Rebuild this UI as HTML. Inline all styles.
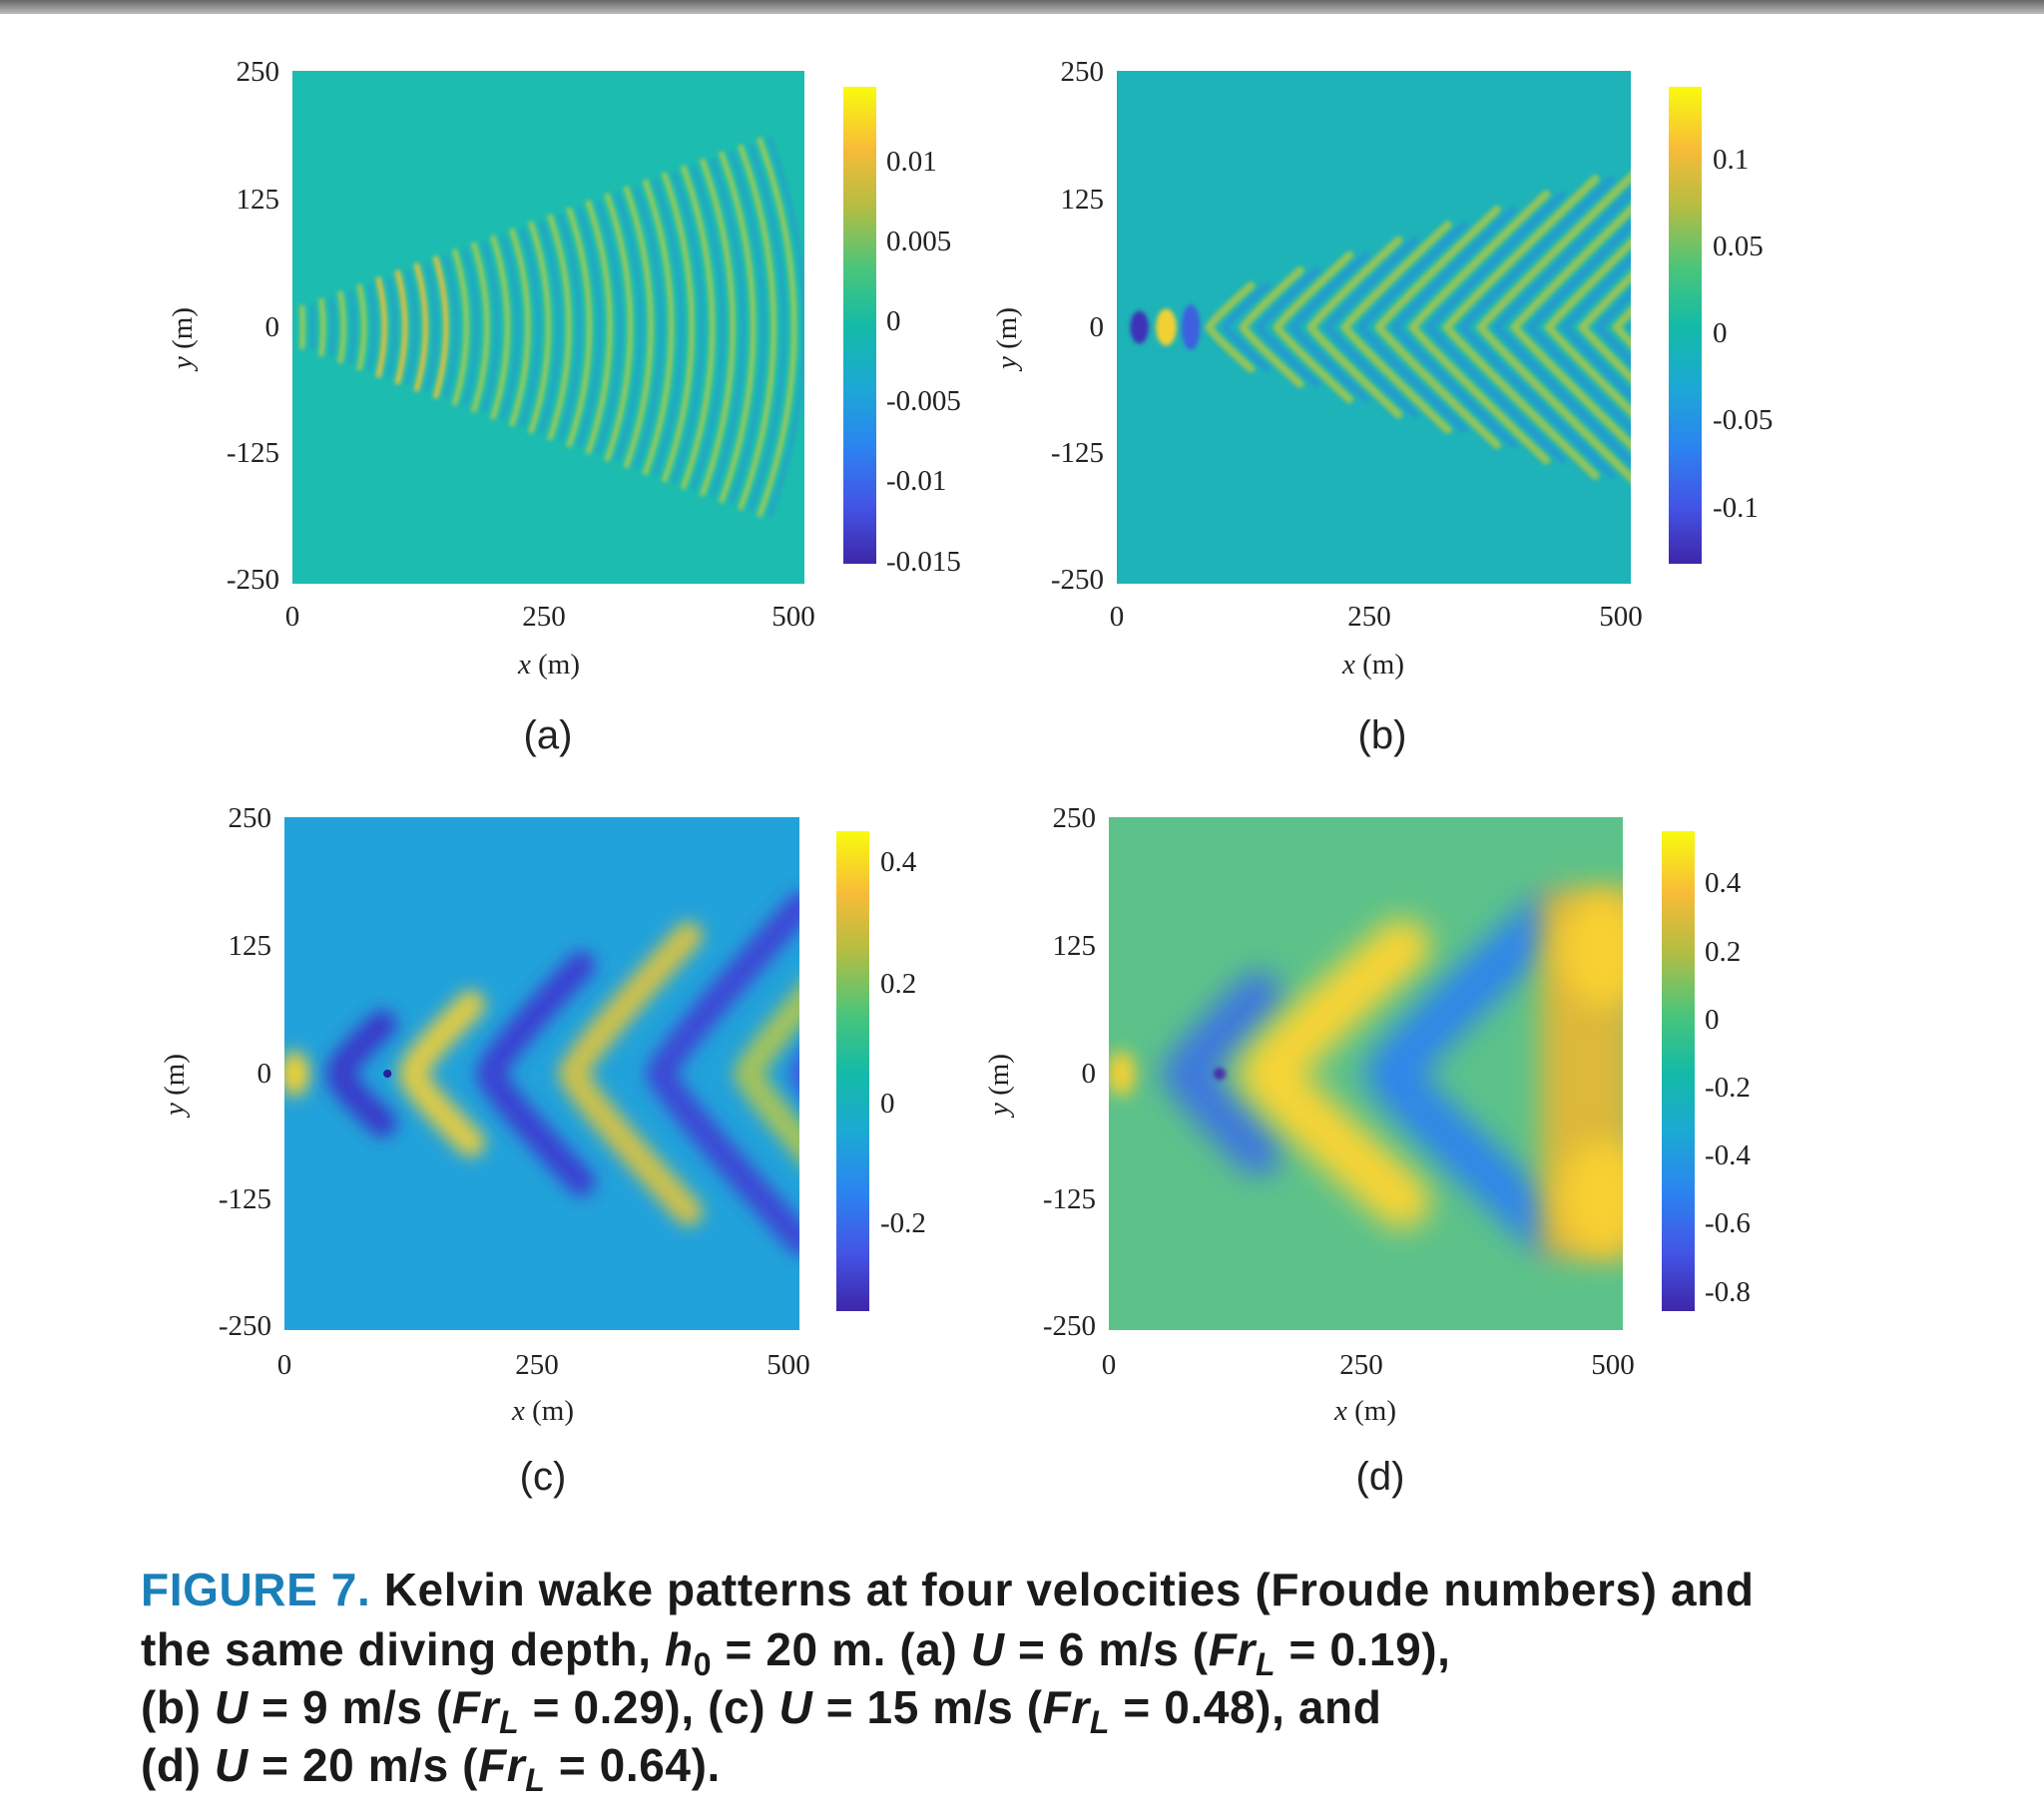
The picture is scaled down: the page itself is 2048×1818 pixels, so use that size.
<!DOCTYPE html><html><head><meta charset="utf-8"><style>
body{margin:0;width:2048px;height:1818px;background:#fff;position:relative;overflow:hidden;font-family:"Liberation Serif",serif;}
.t{position:absolute;font-size:29px;color:#222;white-space:nowrap;}
.r{text-align:right;width:90px;}
.c{transform:translateX(-50%);}
.lab{position:absolute;font-family:"Liberation Sans",sans-serif;font-size:40px;color:#222;transform:translateX(-50%);}
.cap{position:absolute;left:141px;font-family:"Liberation Sans",sans-serif;font-weight:bold;font-size:46px;letter-spacing:0.6px;color:#1a1a1a;white-space:nowrap;}
.cb{position:absolute;width:33px;background:linear-gradient(to top,#3e26a8 0%,#4354e6 12%,#2b85f0 25%,#1ca8d5 37%,#14bba6 50%,#4bc57a 62%,#b5bd43 75%,#f7bb38 87%,#f9fb0e 100%);}
svg{position:absolute;}
</style></head><body>
<div style="position:absolute;left:0;top:0;width:2048px;height:14px;background:linear-gradient(#666,#bbb);"></div>

<svg id="pa" style="left:293px;top:71px" width="513" height="514" viewBox="0 0 500 500" preserveAspectRatio="none"></svg>
<svg id="pb" style="left:1119px;top:71px" width="515" height="514" viewBox="0 0 500 500" preserveAspectRatio="none"></svg>
<svg id="pc" style="left:285px;top:819px" width="516" height="514" viewBox="0 0 500 500" preserveAspectRatio="none"></svg>
<svg id="pd" style="left:1111px;top:819px" width="515" height="514" viewBox="0 0 500 500" preserveAspectRatio="none"></svg>

<div class="cb" style="left:845px;top:87px;height:478px"></div>
<div class="cb" style="left:1672px;top:87px;height:478px"></div>
<div class="cb" style="left:838px;top:833px;height:481px"></div>
<div class="cb" style="left:1665px;top:833px;height:481px"></div>

<div class="t r" style="left:190px;top:56px">250</div>
<div class="t r" style="left:190px;top:184px">125</div>
<div class="t r" style="left:190px;top:312px">0</div>
<div class="t r" style="left:190px;top:438px">-125</div>
<div class="t r" style="left:190px;top:565px">-250</div>
<div class="t c" style="left:293px;top:602px">0</div>
<div class="t c" style="left:545px;top:602px">250</div>
<div class="t c" style="left:795px;top:602px">500</div>
<div class="t c" style="left:550px;top:650px"><i>x</i> (m)</div>
<div class="t" style="left:167px;top:370px;transform:rotate(-90deg);transform-origin:left top"><i>y</i> (m)</div>
<div class="t" style="left:888px;top:146px">0.01</div>
<div class="t" style="left:888px;top:226px">0.005</div>
<div class="t" style="left:888px;top:306px">0</div>
<div class="t" style="left:888px;top:386px">-0.005</div>
<div class="t" style="left:888px;top:466px">-0.01</div>
<div class="t" style="left:888px;top:547px">-0.015</div>
<div class="lab" style="left:549px;top:715px">(a)</div>

<div class="t r" style="left:1016px;top:56px">250</div>
<div class="t r" style="left:1016px;top:184px">125</div>
<div class="t r" style="left:1016px;top:312px">0</div>
<div class="t r" style="left:1016px;top:438px">-125</div>
<div class="t r" style="left:1016px;top:565px">-250</div>
<div class="t c" style="left:1119px;top:602px">0</div>
<div class="t c" style="left:1372px;top:602px">250</div>
<div class="t c" style="left:1624px;top:602px">500</div>
<div class="t c" style="left:1376px;top:650px"><i>x</i> (m)</div>
<div class="t" style="left:993px;top:370px;transform:rotate(-90deg);transform-origin:left top"><i>y</i> (m)</div>
<div class="t" style="left:1716px;top:144px">0.1</div>
<div class="t" style="left:1716px;top:231px">0.05</div>
<div class="t" style="left:1716px;top:318px">0</div>
<div class="t" style="left:1716px;top:405px">-0.05</div>
<div class="t" style="left:1716px;top:493px">-0.1</div>
<div class="lab" style="left:1385px;top:715px">(b)</div>

<div class="t r" style="left:182px;top:804px">250</div>
<div class="t r" style="left:182px;top:932px">125</div>
<div class="t r" style="left:182px;top:1060px">0</div>
<div class="t r" style="left:182px;top:1186px">-125</div>
<div class="t r" style="left:182px;top:1313px">-250</div>
<div class="t c" style="left:285px;top:1352px">0</div>
<div class="t c" style="left:538px;top:1352px">250</div>
<div class="t c" style="left:790px;top:1352px">500</div>
<div class="t c" style="left:544px;top:1398px"><i>x</i> (m)</div>
<div class="t" style="left:159px;top:1118px;transform:rotate(-90deg);transform-origin:left top"><i>y</i> (m)</div>
<div class="t" style="left:882px;top:848px">0.4</div>
<div class="t" style="left:882px;top:970px">0.2</div>
<div class="t" style="left:882px;top:1090px">0</div>
<div class="t" style="left:882px;top:1210px">-0.2</div>
<div class="lab" style="left:544px;top:1458px">(c)</div>

<div class="t r" style="left:1008px;top:804px">250</div>
<div class="t r" style="left:1008px;top:932px">125</div>
<div class="t r" style="left:1008px;top:1060px">0</div>
<div class="t r" style="left:1008px;top:1186px">-125</div>
<div class="t r" style="left:1008px;top:1313px">-250</div>
<div class="t c" style="left:1111px;top:1352px">0</div>
<div class="t c" style="left:1364px;top:1352px">250</div>
<div class="t c" style="left:1616px;top:1352px">500</div>
<div class="t c" style="left:1368px;top:1398px"><i>x</i> (m)</div>
<div class="t" style="left:985px;top:1118px;transform:rotate(-90deg);transform-origin:left top"><i>y</i> (m)</div>
<div class="t" style="left:1708px;top:869px">0.4</div>
<div class="t" style="left:1708px;top:938px">0.2</div>
<div class="t" style="left:1708px;top:1006px">0</div>
<div class="t" style="left:1708px;top:1074px">-0.2</div>
<div class="t" style="left:1708px;top:1142px">-0.4</div>
<div class="t" style="left:1708px;top:1210px">-0.6</div>
<div class="t" style="left:1708px;top:1279px">-0.8</div>
<div class="lab" style="left:1383px;top:1458px">(d)</div>

<div class="cap" style="top:1566px"><span style="color:#1a7fb8">FIGURE 7.</span> Kelvin wake patterns at four velocities (Froude numbers) and</div>
<div class="cap" style="top:1626px">the same diving depth, <i>h</i><sub style="font-size:32px">0</sub> = 20 m. (a) <i>U</i> = 6 m/s (<i>Fr<sub style="font-size:32px">L</sub></i> = 0.19),</div>
<div class="cap" style="top:1684px">(b) <i>U</i> = 9 m/s (<i>Fr<sub style="font-size:32px">L</sub></i> = 0.29), (c) <i>U</i> = 15 m/s (<i>Fr<sub style="font-size:32px">L</sub></i> = 0.48), and</div>
<div class="cap" style="top:1742px">(d) <i>U</i> = 20 m/s (<i>Fr<sub style="font-size:32px">L</sub></i> = 0.64).</div>

<script>
var fu=' filterUnits="userSpaceOnUse" x="-100" y="-100" width="700" height="700"';
var defs='<defs><filter id="b1"'+fu+'><feGaussianBlur stdDeviation="2"/></filter><filter id="b2"'+fu+'><feGaussianBlur stdDeviation="8"/></filter><filter id="b3"'+fu+'><feGaussianBlur stdDeviation="14"/></filter></defs>';
function chev(x0,L,sl,bend,col,w,f,op){var H=L*sl;
 return '<path d="M'+(x0+L)+' '+(250-H)+' Q'+(x0+L*0.15-bend)+' '+(250-H*0.15)+' '+x0+' 250 Q'+(x0+L*0.15-bend)+' '+(250+H*0.15)+' '+(x0+L)+' '+(250+H)+'" stroke="'+col+'" stroke-width="'+w+'" fill="none" stroke-linecap="round" opacity="'+(op||1)+'" filter="url(#'+f+')"/>';}
var a=document.getElementById('pa');var s=defs+'<rect width="500" height="500" fill="#1cbcb0"/>';
for(var i=0;i<25;i++){var x=10+i*20;var h=18+0.34*x;var b=0.07*x;
 var c=(i>=4&&i<=7)?'#e8c23a':'#9fcc55';
 s+='<path d="M'+(x-b)+' '+(250-h)+' Q'+(x+b)+' 250 '+(x-b)+' '+(250+h)+'" stroke="'+c+'" stroke-width="5" fill="none" filter="url(#b1)"/>';
 s+='<path d="M'+(x+10-b)+' '+(250-h)+' Q'+(x+10+b)+' 250 '+(x+10-b)+' '+(250+h)+'" stroke="#2a8fd8" stroke-width="4" fill="none" opacity="0.6" filter="url(#b1)"/>';}
a.innerHTML=s;
var bb=document.getElementById('pb');s=defs+'<rect width="500" height="500" fill="#1eb3b8"/>';
s+='<ellipse cx="22" cy="250" rx="9" ry="16" fill="#3e30b8" filter="url(#b1)"/><ellipse cx="48" cy="250" rx="10" ry="18" fill="#f2d030" filter="url(#b1)"/><ellipse cx="72" cy="250" rx="9" ry="22" fill="#3d5ee0" filter="url(#b1)"/>';
for(var i=0;i<13;i++){var x=90+i*33;var L=0.45*x;
 s+=chev(x,L,1.0,4,'#a8c84a',8,'b1',0.85);
 s+=chev(x+16,L,1.0,4,'#2a86e0',6,'b1',0.6);}
bb.innerHTML=s;
var c=document.getElementById('pc');s=defs+'<rect width="500" height="500" fill="#22a2da"/>';
s+='<ellipse cx="10" cy="250" rx="14" ry="22" fill="#f5d030" filter="url(#b2)"/>';
var ys=[[55,'#3a30c8',50],[125,'#f2cf38',70],[200,'#3d38d0',110],[280,'#e0c43c',140],[365,'#3f40d4',170],[450,'#b0c650',160],[505,'#4450e0',150]];
ys.forEach(function(q){s+=chev(q[0],q[2]*0.8,1.2,10,q[1],28,'b2',0.9);});
s+='<circle cx="100" cy="250" r="4" fill="#2a20a0"/>';
c.innerHTML=s;
var d=document.getElementById('pd');s=defs+'<rect width="500" height="500" fill="#5cc28a"/>';
s+='<ellipse cx="12" cy="250" rx="14" ry="22" fill="#f5d030" filter="url(#b2)"/>';
s+=chev(75,70,1.1,5,'#3a70e8',45,'b3',0.9);
s+='<circle cx="108" cy="250" r="6" fill="#3a2ab0" filter="url(#b1)"/>';
s+=chev(155,130,0.95,10,'#f7d436',55,'b3');
s+=chev(275,150,1.0,10,'#2f86ea',50,'b3');
s+='<rect x="420" y="70" width="90" height="360" fill="#dcb83a" filter="url(#b3)"/>';
s+='<ellipse cx="480" cy="130" rx="40" ry="55" fill="#f8d030" filter="url(#b3)"/><ellipse cx="480" cy="370" rx="40" ry="55" fill="#f8d030" filter="url(#b3)"/>';
d.innerHTML=s;
</script>
</body></html>
